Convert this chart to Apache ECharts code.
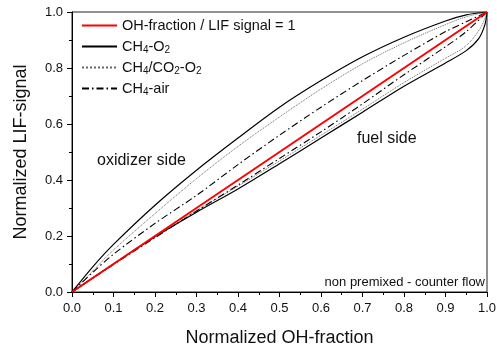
<!DOCTYPE html>
<html>
<head>
<meta charset="utf-8">
<script src="https://cdn.jsdelivr.net/npm/echarts@6/dist/echarts.min.js"></script>
<style>
  html, body { margin: 0; padding: 0; background: #fff; }
  #chart { width: 497px; height: 350px; }
</style>
</head>
<body>
<div id="chart"></div>
<script>
// series names (digits after a letter become subscripts in the legend)
var names = ['OH-fraction / LIF signal = 1', 'CH4-O2', 'CH4/CO2-O2', 'CH4-air'];

// reference line, OH-fraction = LIF signal
var refLine = [[0, 0], [1, 1]];

// CH4-O2, oxidizer side (upper) and fuel side (lower)
var ch4o2Ox = [[0, 0], [0.05, 0.09], [0.1, 0.17], [0.2, 0.31], [0.3, 0.435], [0.4, 0.55], [0.5, 0.66],
  [0.6, 0.755], [0.7, 0.84], [0.8, 0.91], [0.9, 0.968], [0.95, 0.99], [1, 1]];
var ch4o2Fuel = [[0, 0], [0.1, 0.1], [0.2, 0.197], [0.3, 0.285], [0.4, 0.368], [0.5, 0.458], [0.6, 0.55],
  [0.7, 0.642], [0.8, 0.735], [0.9, 0.818], [0.95, 0.862], [0.98, 0.905], [0.995, 0.955], [1, 1]];

// CH4/CO2-O2
var co2Ox = [[0, 0], [0.05, 0.075], [0.1, 0.15], [0.2, 0.28], [0.3, 0.405], [0.4, 0.52], [0.5, 0.625],
  [0.6, 0.725], [0.7, 0.815], [0.8, 0.89], [0.9, 0.955], [0.95, 0.983], [1, 1]];
var co2Fuel = [[0, 0], [0.1, 0.1], [0.2, 0.198], [0.3, 0.29], [0.4, 0.378], [0.5, 0.468], [0.6, 0.56],
  [0.7, 0.653], [0.8, 0.748], [0.9, 0.835], [0.95, 0.88], [0.985, 0.945], [1, 1]];

// CH4-air
var airOx = [[0, 0], [0.05, 0.07], [0.1, 0.135], [0.2, 0.245], [0.3, 0.345], [0.4, 0.455], [0.5, 0.56],
  [0.6, 0.66], [0.7, 0.755], [0.8, 0.845], [0.9, 0.93], [0.95, 0.965], [1, 1]];
var airFuel = [[0, 0], [0.1, 0.098], [0.2, 0.194], [0.3, 0.289], [0.4, 0.382], [0.5, 0.477], [0.6, 0.572],
  [0.7, 0.672], [0.8, 0.776], [0.9, 0.876], [0.95, 0.93], [1, 1]];

var xTicks = ['0.0', '0.1', '0.2', '0.3', '0.4', '0.5', '0.6', '0.7', '0.8', '0.9', '1.0'];

var chart = echarts.init(document.getElementById('chart'));
var FONT = 'Liberation Sans';
var dashDot = [7, 3, 1.5, 3];

function curve(name, data, style) {
  return {
    name: name,
    type: 'line',
    data: data,
    smooth: 0.3,
    symbol: 'none',
    silent: true,
    lineStyle: style,
    itemStyle: { color: style.color },
    z: style.z || 2
  };
}

var option = {
  animation: false,
  backgroundColor: '#fff',
  textStyle: { fontFamily: FONT },
  grid: {
    left: 72, right: 10, top: 12, bottom: 58, outerBoundsMode: 'none', containLabel: false,
    show: true, borderColor: '#222', borderWidth: 1
  },
  legend: {
    orient: 'vertical',
    left: 76,
    top: 12,
    itemWidth: 35,
    itemHeight: 12,
    itemGap: 4,
    data: names,
    itemStyle: { opacity: 0 },
    textStyle: {
      fontFamily: FONT, fontSize: 14.5, color: '#111', lineHeight: 17,
      rich: { s: { fontFamily: FONT, fontSize: 10, color: '#111', lineHeight: 10, padding: [7, 0, 0, 0] } }
    },
    formatter: function (n) {
      return n.replace(/([A-Z])(\d)/g, '$1{s|$2}');
    }
  },
  xAxis: {
    type: 'value', min: 0, max: 1, interval: 0.1,
    name: 'Normalized OH-fraction', nameLocation: 'middle', nameGap: 37,
    nameTextStyle: { fontFamily: FONT, fontSize: 18, color: '#111' },
    axisLine: { lineStyle: { color: '#000' } },
    axisTick: { length: 5, lineStyle: { color: '#000' } },
    minorTick: { show: true, splitNumber: 2, length: 3, lineStyle: { color: '#000' } },
    splitLine: { show: false },
    axisLabel: {
      fontFamily: FONT, fontSize: 13, color: '#111', margin: 10,
      formatter: function (v) { return xTicks[Math.round(v * 10)]; }
    }
  },
  yAxis: {
    type: 'value', min: 0, max: 1, interval: 0.2,
    name: 'Normalized LIF-signal', nameLocation: 'middle', nameGap: 42,
    nameTextStyle: { fontFamily: FONT, fontSize: 18, color: '#111' },
    axisLine: { show: true, lineStyle: { color: '#000' } },
    axisTick: { show: true, length: 5, lineStyle: { color: '#000' } },
    minorTick: { show: true, splitNumber: 2, length: 3, lineStyle: { color: '#000' } },
    splitLine: { show: false },
    axisLabel: {
      fontFamily: FONT, fontSize: 13, color: '#111', margin: 9,
      formatter: function (v) { return v.toFixed(1); }
    }
  },
  series: [
    curve(names[0], refLine, { color: '#ff0000', width: 2, z: 5 }),
    curve(names[1], ch4o2Ox, { color: '#000', width: 1.2 }),
    curve(names[2], co2Ox, { color: '#666', width: 1, type: 'dotted' }),
    curve(names[3], airOx, { color: '#000', width: 1.1, type: dashDot }),
    curve(names[1], ch4o2Fuel, { color: '#000', width: 1.2 }),
    curve(names[2], co2Fuel, { color: '#666', width: 1, type: 'dotted' }),
    curve(names[3], airFuel, { color: '#000', width: 1.1, type: dashDot })
  ],
  graphic: [
    { type: 'text', left: 97, top: 153, style: { text: 'oxidizer side', font: '16px "Liberation Sans"', fill: '#111' } },
    { type: 'text', left: 357, top: 131, style: { text: 'fuel side', font: '16px "Liberation Sans"', fill: '#111' } },
    { type: 'text', right: 12, top: 276, style: { text: 'non premixed - counter flow', font: '13px "Liberation Sans"', fill: '#111' } }
  ]
};

chart.setOption(option);
</script>
</body>
</html>
